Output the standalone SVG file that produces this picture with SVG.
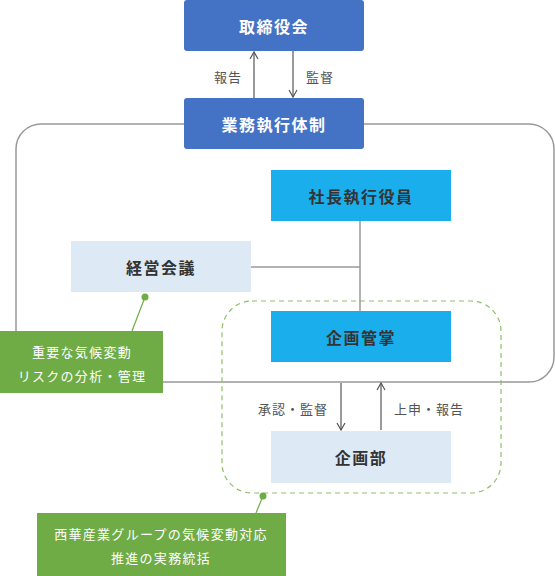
<svg xmlns="http://www.w3.org/2000/svg" width="555" height="576" viewBox="0 0 555 576">
<style>
.t{font-family:"Noto Sans CJK JP","Noto Sans",sans-serif;text-anchor:middle;dominant-baseline:central}
.n{font-size:16px;font-weight:bold;letter-spacing:1.5px}
.w{fill:#fff}
.d{fill:#333}
.l{font-size:13px;fill:#555;letter-spacing:1px}
.g{font-size:13px;fill:#fff;letter-spacing:1.3px}
.ln{stroke:#999;stroke-width:1.5;fill:none}
.ar{stroke:#555;stroke-width:1.2;fill:none}
</style>
<defs>
<marker id="ah" viewBox="0 0 10 10" refX="8" refY="5" markerWidth="10" markerHeight="10" markerUnits="userSpaceOnUse" orient="auto">
<path d="M1,1 L8,5 L1,9" fill="none" stroke="#555" stroke-width="1.2"/>
</marker>
</defs>
<g id="frame">
<rect x="16" y="124" width="538" height="258" rx="25" class="ln"/>
<rect x="222" y="301" width="279" height="192" rx="30" fill="none" stroke="#8DC06A" stroke-width="1.2" stroke-dasharray="5,4"/>
</g>
<g id="connectors">
<line x1="254" y1="98" x2="254" y2="52" class="ar" marker-end="url(#ah)"/>
<line x1="293" y1="51" x2="293" y2="97" class="ar" marker-end="url(#ah)"/>
<line x1="251" y1="267" x2="360" y2="267" class="ln"/>
<line x1="360" y1="221" x2="360" y2="311" class="ln"/>
<line x1="341" y1="383" x2="341" y2="430" class="ar" marker-end="url(#ah)"/>
<line x1="381" y1="430" x2="381" y2="383" class="ar" marker-end="url(#ah)"/>
<line x1="145" y1="297" x2="132" y2="331" stroke="#6FAC46" stroke-width="1.2"/>
<circle cx="145" cy="297" r="3.5" fill="#6FAC46"/>
<line x1="263" y1="496" x2="256" y2="513" stroke="#6FAC46" stroke-width="1.2"/>
<circle cx="263" cy="496" r="3.5" fill="#6FAC46"/>
<text x="228" y="76" class="t l">報告</text>
<text x="320" y="76" class="t l">監督</text>
<text x="293" y="408" class="t l">承認・監督</text>
<text x="429" y="408" class="t l">上申・報告</text>
</g>
<g id="board">
<rect x="184" y="0" width="180" height="51" rx="3" fill="#4472C4"/>
<text x="274" y="26" class="t n w">取締役会</text>
</g>
<g id="exec">
<rect x="184" y="98" width="180" height="51" rx="3" fill="#4472C4"/>
<text x="274" y="124" class="t n w">業務執行体制</text>
</g>
<g id="president">
<rect x="271" y="170" width="180" height="51" fill="#1BAEEC"/>
<text x="361" y="196" class="t n d">社長執行役員</text>
</g>
<g id="meeting">
<rect x="71" y="241" width="180" height="51" fill="#DDE9F5"/>
<text x="161" y="267" class="t n d">経営会議</text>
</g>
<g id="planning-head">
<rect x="271" y="311" width="180" height="51" fill="#1BAEEC"/>
<text x="361" y="337" class="t n d">企画管掌</text>
</g>
<g id="planning-dept">
<rect x="271" y="431" width="180" height="52" fill="#DDE9F5"/>
<text x="361" y="457" class="t n d">企画部</text>
</g>
<g id="note1">
<rect x="0" y="331" width="163" height="62" fill="#6FAC46"/>
<text x="82" y="351" class="t g">重要な気候変動</text>
<text x="82" y="375" class="t g">リスクの分析・管理</text>
</g>
<g id="note2">
<rect x="37" y="513" width="249" height="63" fill="#6FAC46"/>
<text x="161" y="533" class="t g">西華産業グループの気候変動対応</text>
<text x="161" y="557" class="t g">推進の実務統括</text>
</g>
</svg>
